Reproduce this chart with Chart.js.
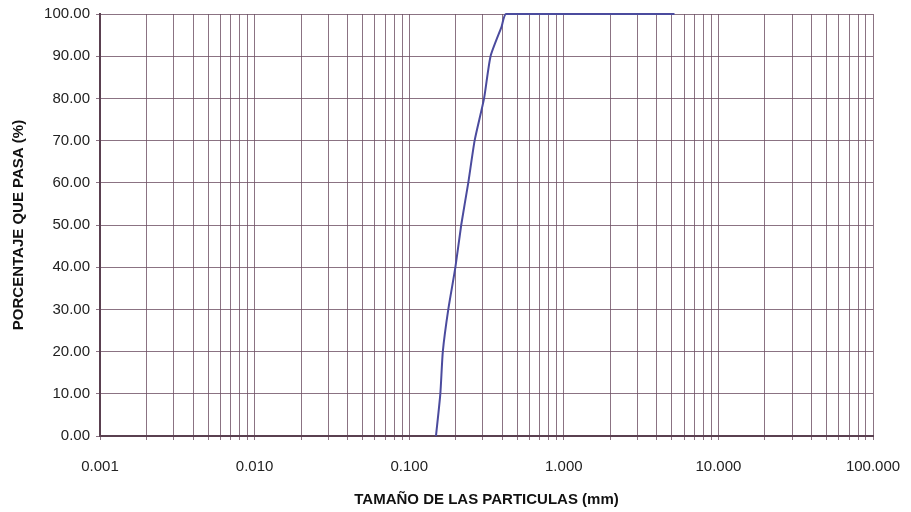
<!DOCTYPE html>
<html>
<head>
<meta charset="utf-8">
<script src="https://cdn.jsdelivr.net/npm/chart.js@4/dist/chart.umd.min.js"></script>
<style>
  html, body { margin: 0; padding: 0; background: #fff; }
  #chart { display: block; }
</style>
</head>
<body>
<canvas id="chart" width="911" height="512"></canvas>
<script>
// grain size curve
const particleSizes = [0.149, 0.159, 0.165, 0.179, 0.199, 0.217, 0.241, 0.265, 0.305, 0.336, 0.396, 0.423, 0.85, 2.0, 5.2];
const percentPassing = [0, 10, 20, 30, 40, 50, 60, 70, 80, 90, 97, 100, 100, 100, 100];

// log axis grid: 1..9 in every decade
const decades = [0.001, 0.01, 0.1, 1, 10];
const multipliers = [1, 2, 3, 4, 5, 6, 7, 8, 9];
const xMin = 0.001, xMax = 100;
const yTicks = [0, 10, 20, 30, 40, 50, 60, 70, 80, 90, 100];

const gridColor = 'rgba(110, 80, 100, 0.8)';
const axisColor = '#5a4050';
const fontFamily = '"Liberation Sans", Arial, sans-serif';

const xTickValues = [];
decades.forEach(d => multipliers.forEach(m => xTickValues.push(+(d * m).toPrecision(3))));
xTickValues.push(xMax);

function isPowerOfTen(v) {
    const l = Math.log10(v);
    return Math.abs(l - Math.round(l)) < 1e-9;
}

const points = particleSizes.map((s, i) => ({ x: s, y: percentPassing[i] }));

new Chart(document.getElementById('chart').getContext('2d'), {
    type: 'scatter',
    data: {
        datasets: [{
            data: points,
            showLine: true,
            borderColor: '#4b4b9e',
            borderWidth: 2,
            pointRadius: 0,
            tension: 0.2,
            clip: 3
        }]
    },
    options: {
        responsive: false,
        animation: false,
        layout: { padding: { left: 8, right: 38, top: 14, bottom: 0 } },
        plugins: { legend: { display: false }, tooltip: { enabled: false } },
        scales: {
            x: {
                type: 'logarithmic',
                min: xMin,
                max: xMax,
                afterBuildTicks: scale => {
                    scale.ticks = xTickValues.map(v => ({ value: v, major: isPowerOfTen(v) }));
                },
                afterFit: scale => {
                    scale.height = 76;
                    scale.paddingLeft = 0;
                    scale.paddingRight = 0;
                },
                grid: { color: gridColor, lineWidth: 1, tickLength: 4, drawTicks: true },
                border: { color: axisColor, width: 2 },
                ticks: {
                    autoSkip: false,
                    maxRotation: 0,
                    padding: 18,
                    color: '#222',
                    font: { family: fontFamily, size: 15 },
                    callback: v => isPowerOfTen(v) ? Number(v).toFixed(3) : ''
                },
                title: {
                    display: true,
                    text: 'TAMAÑO DE LAS PARTICULAS (mm)',
                    color: '#111',
                    font: { family: fontFamily, size: 15, weight: 'bold' },
                    padding: { top: 4, bottom: 3 }
                }
            },
            y: {
                min: 0,
                max: 100,
                afterBuildTicks: scale => { scale.ticks = yTicks.map(v => ({ value: v })); },
                afterFit: scale => {
                    scale.width = 92;
                    scale.paddingTop = 0;
                    scale.paddingBottom = 0;
                },
                grid: { color: gridColor, lineWidth: 1, tickLength: 4 },
                border: { color: axisColor, width: 2 },
                ticks: {
                    padding: 6,
                    color: '#222',
                    font: { family: fontFamily, size: 15 },
                    callback: v => Number(v).toFixed(2)
                },
                title: {
                    display: true,
                    text: 'PORCENTAJE QUE PASA (%)',
                    color: '#111',
                    font: { family: fontFamily, size: 15, weight: 'bold' },
                    padding: { top: 2, bottom: 6 }
                }
            }
        }
    }
});
</script>
</body>
</html>
